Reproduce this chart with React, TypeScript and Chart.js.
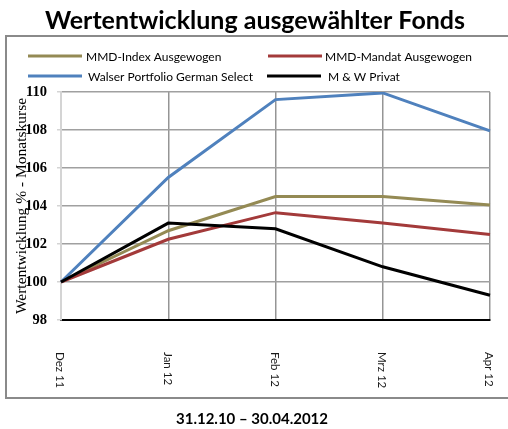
import React, { useEffect, useRef } from "react";
import { Chart, registerables } from "chart.js";

Chart.register(...registerables);

const categories = ["Dez 11", "Jan 12", "Feb 12", "Mrz 12", "Apr 12"];
const mmdIndex = [100, 102.7, 104.5, 104.5, 104.05];
const mmdMandat = [100, 102.25, 103.65, 103.1, 102.5];
const walser = [100, 105.5, 109.6, 109.95, 107.95];
const mwPrivat = [100, 103.1, 102.8, 100.8, 99.3];
const seriesNames = [
  "MMD-Index Ausgewogen",
  "MMD-Mandat Ausgewogen",
  " Walser Portfolio German Select",
  "M & W Privat",
];
const seriesColors = ["#948a54", "#a33a3a", "#4f81bd", "#000000"];
const yTicks = { min: 98, max: 110, step: 2 };
const titleText = "Wertentwicklung ausgewählter Fonds";
const subtitleText = "31.12.10 – 30.04.2012";
const yTitle = "Wertentwicklung % - Monatskurse";

const SANS = "Lato, 'Open Sans', sans-serif";

const decorPlugin = {
  id: "decor",
  beforeDraw(chart: any) {
    const ctx = chart.ctx;
    ctx.save();
    ctx.fillStyle = "#ffffff";
    ctx.fillRect(0, 0, chart.width, chart.height);
    // frame
    ctx.strokeStyle = "#8a8a8a";
    ctx.lineWidth = 2;
    ctx.strokeRect(6, 36, 520, 362);
    // title
    ctx.fillStyle = "#000";
    ctx.font = `bold 25px ${SANS}`;
    ctx.textAlign = "center";
    ctx.textBaseline = "alphabetic";
    ctx.fillText(titleText, 255, 29);
    // subtitle
    ctx.font = `bold 15px ${SANS}`;
    ctx.fillText(subtitleText, 252, 424);
    // legend
    const cols = [
      { lx: 28, tx: 86 },
      { lx: 268, tx: 325 },
      { lx: 28, tx: 88 },
      { lx: 267, tx: 328 },
    ];
    const rows = [56, 56, 76, 76];
    ctx.font = `12px ${SANS}`;
    ctx.textAlign = "left";
    ctx.textBaseline = "middle";
    chart.data.datasets.forEach((ds: any, i: number) => {
      const y = rows[i];
      ctx.strokeStyle = ds.borderColor;
      ctx.lineWidth = 3;
      ctx.lineCap = "butt";
      ctx.beginPath();
      ctx.moveTo(cols[i].lx, y);
      ctx.lineTo(cols[i].lx + 54, y);
      ctx.stroke();
      ctx.fillStyle = "#000";
      ctx.fillText(ds.label.trim(), cols[i].tx, y + 1);
    });
    ctx.restore();
  },
  afterDraw(chart: any) {
    const ctx = chart.ctx;
    const xs = chart.scales.x;
    ctx.save();
    ctx.font = `11.5px ${SANS}`;
    ctx.fillStyle = "#1a1a1a";
    ctx.textAlign = "left";
    ctx.textBaseline = "middle";
    chart.data.labels.forEach((lab: string, i: number) => {
      const x = xs.getPixelForValue(i);
      ctx.save();
      ctx.translate(x - 1, 352);
      ctx.rotate(Math.PI / 2);
      ctx.fillText(lab, 0, 0);
      ctx.restore();
    });
    ctx.restore();
  },
};

export default function App() {
  const ref = useRef<HTMLCanvasElement | null>(null);
  useEffect(() => {
    if (!ref.current) return;
    const data = [mmdIndex, mmdMandat, walser, mwPrivat];
    const chart = new Chart(ref.current, {
      type: "line",
      data: {
        labels: categories,
        datasets: data.map((d, i) => ({
          label: seriesNames[i],
          data: d,
          borderColor: seriesColors[i],
          backgroundColor: seriesColors[i],
          borderWidth: 3,
          pointRadius: 0,
          tension: 0,
          order: 4 - i,
        })),
      },
      options: {
        animation: false,
        responsive: false,
        events: [],
        layout: { padding: { top: 92, left: 0, right: 18, bottom: 0 } },
        plugins: {
          legend: { display: false },
          title: { display: false },
          tooltip: { enabled: false },
        },
        scales: {
          x: {
            type: "category",
            offset: false,
            afterFit: (s: any) => {
              s.height = 109;
            },
            ticks: { display: false },
            grid: {
              color: "#959595",
              lineWidth: 1.5,
              drawTicks: false,
            },
            border: { color: "#000000", width: 2 },
          },
          y: {
            min: yTicks.min,
            max: yTicks.max,
            afterFit: (s: any) => {
              s.width = 61;
            },
            ticks: {
              stepSize: yTicks.step,
              padding: 10,
              color: "#000",
              font: { family: "'Liberation Serif', serif", weight: "bold", size: 14.5 },
            },
            grid: {
              color: "#a0a0a0",
              lineWidth: 1.5,
              tickLength: 4,
              tickColor: "#d4d4d4",
            },
            border: { color: "#d4d4d4", width: 2 },
            title: {
              display: true,
              text: yTitle,
              color: "#000",
              padding: { top: 13, bottom: 0 },
              font: { family: "'Liberation Serif', serif", size: 15.5, weight: "normal" },
            },
          },
        },
      },
      plugins: [decorPlugin],
    });
    return () => chart.destroy();
  }, []);
  return (
    <div style={{ position: "absolute", left: 0, top: 0, width: 508, height: 429 }}>
      <canvas ref={ref} width={508} height={429} style={{ width: 508, height: 429 }} />
    </div>
  );
}
